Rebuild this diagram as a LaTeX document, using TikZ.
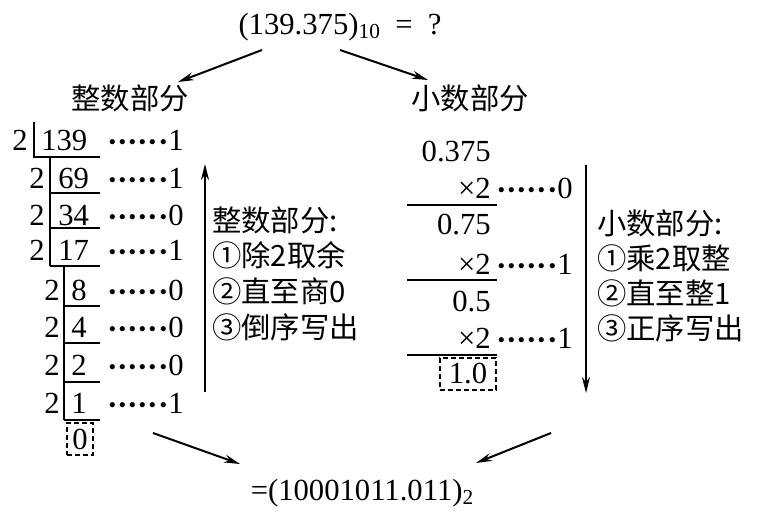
\documentclass[tikz,border=0pt]{standalone}
\usepackage{fontspec}
\setmainfont{Liberation Serif}
\newfontfamily\cjk{Noto Sans CJK SC}
\usetikzlibrary{arrows.meta,calc}
\newcommand\onedot{\hbox to 7.65pt{\hss\boldmath$\cdot$\hss}}
\newcommand\dotrow{\onedot\onedot\onedot\onedot\onedot\onedot}
\begin{document}
\begin{tikzpicture}[x=0.75pt,y=-0.75pt,
  txt/.style={font=\fontsize{23}{27}\selectfont, inner sep=0pt},
  cn/.style={font=\fontsize{22}{26}\selectfont\cjk, inner sep=0pt},
  lad/.style={line width=1.8pt},
  arr/.style={line width=1.5pt,-{Stealth[length=12pt,width=6pt]}},
  dbox/.style={draw,dashed,line width=0.9pt,inner sep=0pt,dash pattern=on 3.5pt off 2.5pt}]
\useasboundingbox (0,0) rectangle (767,520);

% title and headings
\node[txt] (t) at (340,27) {(139.375)\raisebox{-3pt}{\fontsize{16}{16}\selectfont 10}\ \ =\ \ ?};
\node[cn] (ih) at (130,98) {整数部分};
\node[cn] (fh) at (470,98) {小数部分};
\node[txt] (r) at (362,493) {=(10001011.011)\raisebox{-3pt}{\fontsize{16}{16}\selectfont 2}};

\coordinate (a1s) at (262,50);
\coordinate (a1e) at (178,82);
\coordinate (a2s) at (340,50);
\coordinate (a2e) at (428,80);
\coordinate (b1s) at (153,433);
\coordinate (b1e) at (240,464);
\coordinate (b2s) at (551,433);
\coordinate (b2e) at (476,463);
\draw[arr] (a1s) -- (a1e);
\draw[arr] (a2s) -- (a2e);
\draw[arr] (b1s) -- (b1e);
\draw[arr] (b2s) -- (b2e);

% integer ladder
\node[txt] (d1) at (20,140) {2};
\node[txt] (d2) at (37,178) {2};
\node[txt] (d3) at (37,215) {2};
\node[txt] (d4) at (37,250) {2};
\node[txt] (d5) at (52,290) {2};
\node[txt] (d6) at (52,327) {2};
\node[txt] (d7) at (52,365) {2};
\node[txt] (d8) at (52,403) {2};

\node[txt,anchor=west] (q1) at (41,140) {139};
\node[txt,anchor=west] (q2) at (58,178) {69};
\node[txt,anchor=west] (q3) at (58,215) {34};
\node[txt,anchor=west] (q4) at (58,250) {17};
\node[txt,anchor=west] (q5) at (71,290) {8};
\node[txt,anchor=west] (q6) at (71,327) {4};
\node[txt,anchor=west] (q7) at (71,365) {2};
\node[txt,anchor=west] (q8) at (71,403) {1};
\node[txt,dbox,minimum width=19.5pt,minimum height=24pt] (q9) at (80,439) {0};

\node[txt,anchor=west] (m1) at (107,140) {\dotrow 1};
\node[txt,anchor=west] (m2) at (107,178) {\dotrow 1};
\node[txt,anchor=west] (m3) at (107,215) {\dotrow 0};
\node[txt,anchor=west] (m4) at (107,250) {\dotrow 1};
\node[txt,anchor=west] (m5) at (107,290) {\dotrow 0};
\node[txt,anchor=west] (m6) at (107,327) {\dotrow 0};
\node[txt,anchor=west] (m7) at (107,365) {\dotrow 0};
\node[txt,anchor=west] (m8) at (107,403) {\dotrow 1};

\draw[lad] (34,122) -- (34,157) -- (100,157);
\draw[lad] (50,157) -- (50,266);
\draw[lad] (50,193) -- (100,193);
\draw[lad] (50,228) -- (100,228);
\draw[lad] (50,266) -- (100,266);
\draw[lad] (64,266) -- (64,420);
\draw[lad] (64,306) -- (100,306);
\draw[lad] (64,343) -- (100,343);
\draw[lad] (64,382) -- (100,382);
\draw[lad] (64,420) -- (100,420);

\coordinate (u1) at (205,392);
\coordinate (u2) at (205,164);
\draw[arr] (u1) -- (u2);
\node[cn,anchor=west] (l1) at (212,220) {整数部分:};
\node[cn,anchor=west] (l2) at (212,255) {①除2取余};
\node[cn,anchor=west] (l3) at (212,291) {②直至商0};
\node[cn,anchor=west] (l4) at (212,327) {③倒序写出};

% fraction part
\node[txt,anchor=east] (f1) at (491,152) {0.375};
\node[txt,anchor=east] (x1) at (491,188) {×2};
\node[txt,anchor=east] (f2) at (491,225) {0.75};
\node[txt,anchor=east] (x2) at (491,264) {×2};
\node[txt,anchor=east] (f3) at (491,302) {0.5};
\node[txt,anchor=east] (x3) at (491,338) {×2};
\node[txt,dbox,minimum width=42pt,minimum height=24pt] (f4) at (468,374) {1.0};

\node[txt,anchor=west] (n1) at (496,188) {\dotrow 0};
\node[txt,anchor=west] (n2) at (496,264) {\dotrow 1};
\node[txt,anchor=west] (n3) at (496,338) {\dotrow 1};

\draw[lad] (407,205) -- (497,205);
\draw[lad] (407,280) -- (497,280);
\draw[lad] (407,355) -- (497,355);

\coordinate (w1) at (586,165);
\coordinate (w2) at (586,393);
\draw[arr] (w1) -- (w2);
\node[cn,anchor=west] (k1) at (597,223) {小数部分:};
\node[cn,anchor=west] (k2) at (597,258) {①乘2取整};
\node[cn,anchor=west] (k3) at (597,293) {②直至整1};
\node[cn,anchor=west] (k4) at (597,328) {③正序写出};
\end{tikzpicture}
\end{document}
